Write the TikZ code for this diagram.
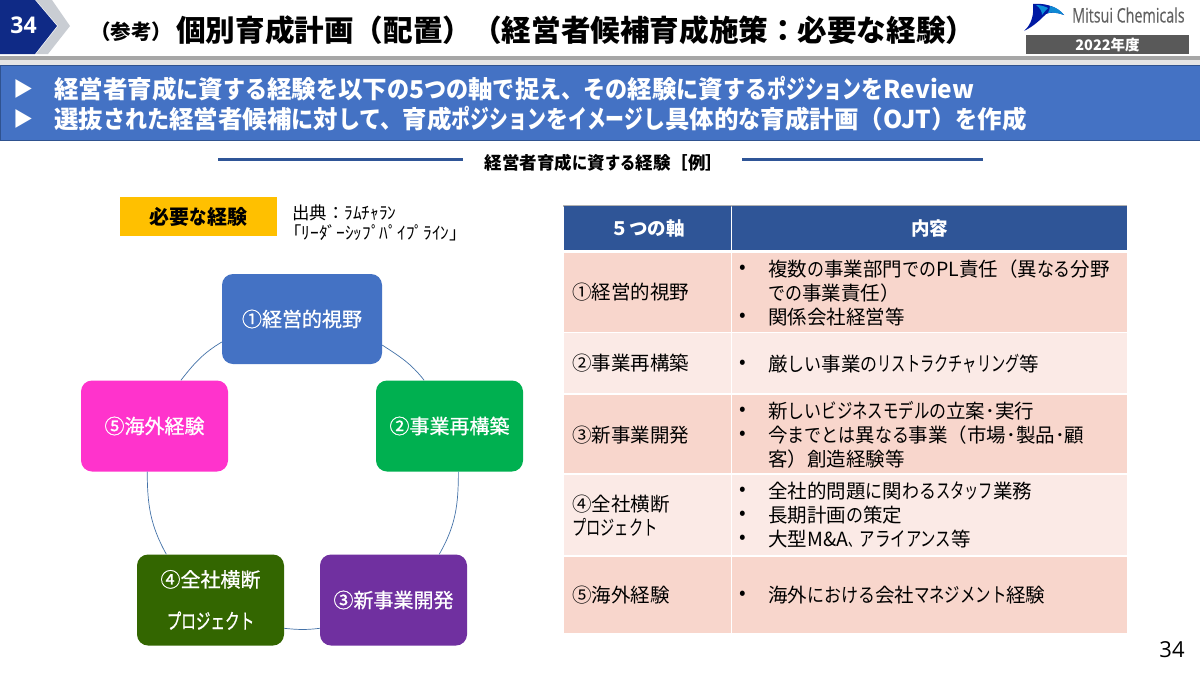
\documentclass[tikz,border=0pt]{standalone}
\usepackage{fontspec}
\setmainfont{Noto Sans CJK JP}
\newfontfamily\latinf{Open Sans}
\newfontfamily\latinm[FakeBold=0.4]{Open Sans}
\newfontfamily\medf[FakeBold=0.8]{Noto Sans CJK JP}
\definecolor{navy}{HTML}{0F2A86}
\definecolor{chev}{HTML}{C9CDD3}
\definecolor{band}{HTML}{4472C4}
\definecolor{bandedge}{HTML}{2F528F}
\definecolor{thead}{HTML}{2F5597}
\definecolor{rowa}{HTML}{F8D6CC}
\definecolor{rowb}{HTML}{FBEAE6}
\definecolor{cycle}{HTML}{4472A8}
\definecolor{yell}{HTML}{FFC000}
\definecolor{cgreen}{HTML}{00B050}
\definecolor{cpurple}{HTML}{7030A0}
\definecolor{cdgreen}{HTML}{336600}
\definecolor{cpink}{HTML}{FF33CC}
\newcommand{\hn}[1]{\scalebox{.87}[1]{#1}}
\newcommand{\hb}[1]{\scalebox{.90}[1]{#1}}
\newcommand{\kn}[1]{\scalebox{.73}[1.06]{#1}}
\newcommand{\kb}[1]{\scalebox{.77}[1.04]{#1}}
\newcommand{\kw}[1]{\scalebox{.79}[1.04]{#1}}
\tikzset{
  px/.style={x=1pt,y=-1pt},
  txt/.style={inner sep=0pt,anchor=west,text=black,font=\fontsize{19.5}{22}\selectfont},
  bul/.style={inner sep=0pt,anchor=center,text=black,font=\fontsize{19.5}{22}\selectfont},
  bandt/.style={inner sep=0pt,anchor=west,text=white,font=\fontsize{24.5}{27}\bfseries\selectfont},
  cyc/.style={draw=none,rounded corners=11pt,inner sep=0pt,text=white,align=center,font=\fontsize{20}{42}\medf},
  cell/.style={inner sep=0pt,anchor=north west},
  headc/.style={cell,fill=thead,minimum height=44pt,text=white,font=\fontsize{18.5}{20}\bfseries\selectfont},
  link/.style={draw=cycle,line width=0.7pt},
}
\newcommand{\cycnode}[7]{\node[cyc,fill=#1,minimum width=#2pt,minimum height=#3pt] (#4) at (#5,#6) {#7};}
\newcommand{\rowcell}[4]{%
  \node[cell,fill=#1,minimum width=167pt,minimum height=#3pt] (#2a) at (564,#4) {};
  \node[cell,fill=#1,minimum width=395pt,minimum height=#3pt] (#2b) at (732,#4) {};
}
\begin{document}
\begin{tikzpicture}[px]
\useasboundingbox (0,0) rectangle (1200,675);
\fill[white] (0,0) rectangle (1200,675);
% header
\fill[chev] (36,0) -- (52,0) -- (70,26) -- (48,54) -- (36,54) -- (58,26) -- cycle;
\fill[navy] (0,0) -- (35,0) -- (57,26) -- (35,54) -- (0,54) -- cycle;
\node[inner sep=0pt,text=white] (num) at (23.5,25) {\fontsize{23}{26}\bfseries\latinf 34};
\node[inner sep=0pt,anchor=west] (tsmall) at (90,32) {\fontsize{20.5}{22}\bfseries\selectfont（参考）};
\node[inner sep=0pt,anchor=west] (title) at (176,30) {\fontsize{29.6}{32}\bfseries\selectfont 個別育成計画（配置）（経営者候補育成施策：必要な経験）};
% logo
\fill[blue!60!black!90!cyan] (1024,31) .. controls (1032,24) and (1034,14) .. (1033,4) .. controls (1042,3) and (1056,5) .. (1064,15) .. controls (1056,12) and (1050,12) .. (1046,14) .. controls (1040,20) and (1034,26) .. cycle;
\fill[cyan!75!blue] (1036,5) .. controls (1040,5) and (1044,6) .. (1048,8) .. controls (1046,10) and (1044,12) .. (1042,15) .. controls (1042,11) and (1040,8) .. cycle;
\fill[cyan!70!blue] (1050,6) .. controls (1056,7) and (1061,11) .. (1064,15) .. controls (1059,13) and (1053,12) .. (1048,13) .. controls (1049,11) and (1050,8) .. cycle;
\node[inner sep=0pt,anchor=west,text=black!62] (brand) at (1072,15) {\fontsize{20}{22}\selectfont\scalebox{0.715}[1]{\latinm Mitsui Chemicals}};
\node[inner sep=0pt,fill=black!65,minimum width=163pt,minimum height=19pt,text=white] (year) at (1107.5,44.5) {\fontsize{14.5}{16}\bfseries\selectfont 2022年度};
\fill[black!35] (0,56) rectangle (1200,60);
\fill[black!10] (0,60) rectangle (1200,65);
% band
\path[fill=band,draw=bandedge,line width=0.8pt] (0,65.5) rectangle (1200,140.5);
\node[inner sep=0pt,text=white] (ar1) at (23,89) {\fontsize{20}{22}\selectfont ▶};
\node[inner sep=0pt,text=white] (ar2) at (23,119) {\fontsize{20}{22}\selectfont ▶};
\node[bandt] (b1) at (54,89) {経営者育成\hb{に}資\hb{する}経験\hb{を}以下\hb{の}5\hb{つの}軸\hb{で}捉\hb{え、その}経験\hb{に}資\hb{する}\kb{ポジション}\hb{を}Review};
\node[bandt] (b2) at (54,119) {選抜\hb{された}経営者候補\hb{に}対\hb{して、}育成\kb{ポジション}\hb{を}\kb{イメージ}\hb{し}具体的\hb{な}育成計画（OJT）\hb{を}作成};
% sub heading
\node[inner sep=0pt] (sub) at (604,163) {\fontsize{17.5}{18}\bfseries\selectfont 経営者育成\hn{に}資\hn{する}経験［例］};
\draw[thead,line width=3pt] (218,159) -- (463,159);
\draw[thead,line width=3pt] (742,159) -- (983,159);
% yellow
\node[inner sep=0pt,fill=yell,minimum width=157pt,minimum height=39pt] (need) at (198.5,216.5) {\fontsize{20}{20}\bfseries\selectfont 必要\hn{な}経験};
\node[inner sep=0pt,anchor=west] (src1) at (292,213) {\fontsize{17.4}{18}\selectfont 出典：ﾗﾑﾁｬﾗﾝ};
\node[inner sep=0pt,anchor=west] (src2) at (284,233) {\fontsize{17.4}{18}\selectfont 「ﾘｰﾀﾞｰｼｯﾌﾟﾊﾟｲﾌﾟﾗｲﾝ」};
% cycle
\cycnode{band}{160}{90}{n1}{302}{319}{①経営的視野}
\cycnode{cgreen}{147}{91}{n2}{449.5}{426}{②事業再構築}
\cycnode{cpurple}{147}{91}{n3}{393.5}{600}{③新事業開発}
\cycnode{cdgreen}{147}{91}{n4}{210.5}{600}{④全社横断\\\kn{プロジェクト}}
\cycnode{cpink}{147}{91}{n5}{154.5}{426}{⑤海外経験}
\draw[link] (n1.-18) to[out=-33,in=128] (n2.119);
\draw[link] (n2.-79) to[out=-90,in=60] (n3.45.6);
\draw[link] (n3.201.7) to[out=187,in=354] (n4.-21.4);
\draw[link] (n4.134) to[out=119,in=270] (n5.-99);
\draw[link] (n5.60) to[out=52,in=211] (n1.196.7);
% table
\fill[black!30] (563,205) rectangle (1127,207);
\node[headc,minimum width=167pt] (h1) at (564,206) {５つの軸};
\node[headc,minimum width=395pt] (h2) at (732,206) {内容};
\rowcell{rowa}{r1}{79}{253}
\rowcell{rowb}{r2}{60}{333}
\rowcell{rowa}{r3}{78}{395}
\rowcell{rowb}{r4}{80}{475}
\rowcell{rowa}{r5}{76}{557}
\node[txt] (c1) at (572,292) {①経営的視野};
\node[txt] (c2) at (572,363) {②事業再構築};
\node[txt] (c3) at (572,435) {③新事業開発};
\node[txt] (c4a) at (572,504) {④全社横断};
\node[txt] (c4b) at (572,527) {\kn{プロジェクト}};
\node[txt] (c5) at (572,595) {⑤海外経験};
\node[bul] (p1) at (743,269) {•};
\node[txt] (t1) at (768,269) {複数\hn{の}事業部門\hn{での}PL責任（異\hn{なる}分野};
\node[txt] (t1b) at (768,293) {\hn{での}事業責任）};
\node[bul] (p2) at (743,317) {•};
\node[txt] (t2) at (768,317) {関係会社経営等};
\node[bul] (p3) at (743,364) {•};
\node[txt] (t3) at (768,364) {厳\hn{しい}事業\hn{の}\kn{リストラクチャリング}等};
\node[bul] (p4) at (743,411) {•};
\node[txt] (t4) at (768,411) {新\hn{しい}\kw{ビジネスモデル}\hn{の}立案･実行};
\node[bul] (p5) at (743,435) {•};
\node[txt] (t5) at (768,435) {今\hn{までとは}異\hn{なる}事業（市場･製品･顧};
\node[txt] (t5b) at (768,459) {客）創造経験等};
\node[bul] (p6) at (743,491) {•};
\node[txt] (t6) at (768,491) {全社的問題\hn{に}関\hn{わる}\kn{スタッフ}業務};
\node[bul] (p7) at (743,515) {•};
\node[txt] (t7) at (768,515) {長期計画\hn{の}策定};
\node[bul] (p8) at (743,539) {•};
\node[txt] (t8) at (768,539) {大型M\&A\scalebox{.6}[1]{、}\kw{アライアンス}等};
\node[bul] (p9) at (743,595) {•};
\node[txt] (t9) at (768,595) {海外\hn{における}会社\kw{マネジメント}経験};
\node[inner sep=0pt,text=black] (page) at (1172,650) {\fontsize{22}{24}\latinf 34};
\end{tikzpicture}
\end{document}
